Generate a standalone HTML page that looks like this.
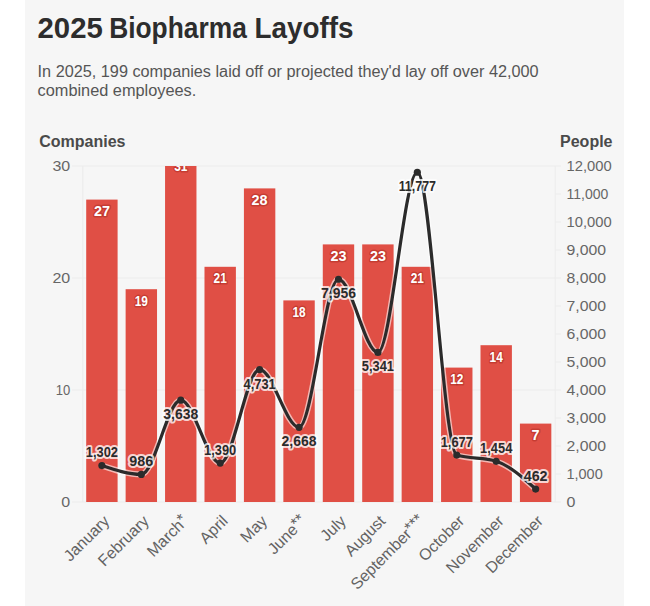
<!DOCTYPE html>
<html><head><meta charset="utf-8"><style>
html,body{margin:0;padding:0;background:#fff;}
body{width:650px;height:606px;position:relative;overflow:hidden;font-family:"Liberation Sans",Arial,sans-serif;}
#bg{position:absolute;left:25px;top:0;width:599px;height:606px;background:#f6f6f6;}
svg{position:absolute;left:0;top:0;font-family:"Liberation Sans",Arial,sans-serif;}
.ti{font-size:29px;font-weight:bold;fill:#2d2d2d;}
.su{font-size:16px;fill:#555;}
.hd{font-size:16px;font-weight:bold;fill:#4a4a4a;}
.g{stroke:#ececec;stroke-width:1;}
.ax{font-size:15.5px;fill:#666;}
.bl{font-size:14px;font-weight:bold;fill:#fff;stroke:rgba(150,25,15,0.35);stroke-width:3;paint-order:stroke;stroke-linejoin:round;}
.ln{fill:none;stroke:#2b2b2b;stroke-width:3.2;}
.lh{fill:none;stroke:#fff;stroke-opacity:0.6;stroke-width:6;}

.pl{font-size:14px;font-weight:bold;fill:#2b2b2b;stroke:rgba(255,255,255,0.75);stroke-width:4;paint-order:stroke;stroke-linejoin:round;}
.xl{font-size:16px;fill:#636363;}

</style></head><body>
<div id="bg"></div>
<svg width="650" height="606" viewBox="0 0 650 606">
<defs><clipPath id="pc"><rect x="0" y="166" width="650" height="400"/></clipPath></defs>
<text y="38.3" class="ti"><tspan x="37.5" textLength="65.3" lengthAdjust="spacingAndGlyphs">2025</tspan> <tspan x="109.2" textLength="137.6" lengthAdjust="spacingAndGlyphs">Biopharma</tspan> <tspan x="254.6" textLength="99" lengthAdjust="spacingAndGlyphs">Layoffs</tspan></text>
<text x="37.6" y="77" class="su" textLength="501" lengthAdjust="spacingAndGlyphs">In 2025, 199 companies laid off or projected they'd lay off over 42,000</text>
<text x="37.6" y="95.7" class="su" textLength="158.7" lengthAdjust="spacingAndGlyphs">combined employees.</text>
<text x="39.2" y="146.5" class="hd">Companies</text>
<text x="612.5" y="146.5" class="hd" text-anchor="end">People</text>
<line x1="72" x2="555" y1="502.0" y2="502.0" class="g"/>
<line x1="72" x2="555" y1="390.0" y2="390.0" class="g"/>
<line x1="72" x2="555" y1="278.0" y2="278.0" class="g"/>
<line x1="72" x2="555" y1="166.0" y2="166.0" class="g"/>
<line x1="555" x2="561" y1="502.0" y2="502.0" class="g"/>
<line x1="555" x2="561" y1="474.0" y2="474.0" class="g"/>
<line x1="555" x2="561" y1="446.0" y2="446.0" class="g"/>
<line x1="555" x2="561" y1="418.0" y2="418.0" class="g"/>
<line x1="555" x2="561" y1="390.0" y2="390.0" class="g"/>
<line x1="555" x2="561" y1="362.0" y2="362.0" class="g"/>
<line x1="555" x2="561" y1="334.0" y2="334.0" class="g"/>
<line x1="555" x2="561" y1="306.0" y2="306.0" class="g"/>
<line x1="555" x2="561" y1="278.0" y2="278.0" class="g"/>
<line x1="555" x2="561" y1="250.0" y2="250.0" class="g"/>
<line x1="555" x2="561" y1="222.0" y2="222.0" class="g"/>
<line x1="555" x2="561" y1="194.0" y2="194.0" class="g"/>
<line x1="555" x2="561" y1="166.0" y2="166.0" class="g"/>
<line x1="82.8" x2="82.8" y1="166" y2="502" class="g"/>
<line x1="555.2" x2="555.2" y1="166" y2="502" class="g"/>
<text x="70.2" y="507.4" class="ax" text-anchor="end" textLength="8.9" lengthAdjust="spacingAndGlyphs">0</text>
<text x="70.2" y="395.4" class="ax" text-anchor="end" textLength="14.5" lengthAdjust="spacingAndGlyphs">10</text>
<text x="70.2" y="283.4" class="ax" text-anchor="end" textLength="17.8" lengthAdjust="spacingAndGlyphs">20</text>
<text x="70.2" y="171.4" class="ax" text-anchor="end" textLength="17.8" lengthAdjust="spacingAndGlyphs">30</text>
<text x="566.5" y="507.4" class="ax" textLength="8.9" lengthAdjust="spacingAndGlyphs">0</text>
<text x="566.5" y="479.4" class="ax" textLength="36.2" lengthAdjust="spacingAndGlyphs">1,000</text>
<text x="566.5" y="451.4" class="ax" textLength="39.5" lengthAdjust="spacingAndGlyphs">2,000</text>
<text x="566.5" y="423.4" class="ax" textLength="39.5" lengthAdjust="spacingAndGlyphs">3,000</text>
<text x="566.5" y="395.4" class="ax" textLength="39.5" lengthAdjust="spacingAndGlyphs">4,000</text>
<text x="566.5" y="367.4" class="ax" textLength="39.5" lengthAdjust="spacingAndGlyphs">5,000</text>
<text x="566.5" y="339.4" class="ax" textLength="39.5" lengthAdjust="spacingAndGlyphs">6,000</text>
<text x="566.5" y="311.4" class="ax" textLength="39.5" lengthAdjust="spacingAndGlyphs">7,000</text>
<text x="566.5" y="283.4" class="ax" textLength="39.5" lengthAdjust="spacingAndGlyphs">8,000</text>
<text x="566.5" y="255.4" class="ax" textLength="39.5" lengthAdjust="spacingAndGlyphs">9,000</text>
<text x="566.5" y="227.4" class="ax" textLength="45.1" lengthAdjust="spacingAndGlyphs">10,000</text>
<text x="566.5" y="199.4" class="ax" textLength="41.8" lengthAdjust="spacingAndGlyphs">11,000</text>
<text x="566.5" y="171.4" class="ax" textLength="45.1" lengthAdjust="spacingAndGlyphs">12,000</text>
<g clip-path="url(#pc)">
<rect x="86.20" y="199.60" width="31.4" height="302.40" fill="#e04f45"/>
<rect x="125.63" y="289.20" width="31.4" height="212.80" fill="#e04f45"/>
<rect x="165.06" y="154.80" width="31.4" height="347.20" fill="#e04f45"/>
<rect x="204.49" y="266.80" width="31.4" height="235.20" fill="#e04f45"/>
<rect x="243.92" y="188.40" width="31.4" height="313.60" fill="#e04f45"/>
<rect x="283.35" y="300.40" width="31.4" height="201.60" fill="#e04f45"/>
<rect x="322.78" y="244.40" width="31.4" height="257.60" fill="#e04f45"/>
<rect x="362.21" y="244.40" width="31.4" height="257.60" fill="#e04f45"/>
<rect x="401.64" y="266.80" width="31.4" height="235.20" fill="#e04f45"/>
<rect x="441.07" y="367.60" width="31.4" height="134.40" fill="#e04f45"/>
<rect x="480.50" y="345.20" width="31.4" height="156.80" fill="#e04f45"/>
<rect x="519.93" y="423.60" width="31.4" height="78.40" fill="#e04f45"/>
<text x="101.90" y="216.10" class="bl" text-anchor="middle" textLength="16.0" lengthAdjust="spacingAndGlyphs">27</text>
<text x="141.33" y="305.70" class="bl" text-anchor="middle" textLength="13.2" lengthAdjust="spacingAndGlyphs">19</text>
<text x="180.76" y="171.30" class="bl" text-anchor="middle" textLength="13.2" lengthAdjust="spacingAndGlyphs">31</text>
<text x="220.19" y="283.30" class="bl" text-anchor="middle" textLength="13.2" lengthAdjust="spacingAndGlyphs">21</text>
<text x="259.62" y="204.90" class="bl" text-anchor="middle" textLength="16.0" lengthAdjust="spacingAndGlyphs">28</text>
<text x="299.05" y="316.90" class="bl" text-anchor="middle" textLength="13.2" lengthAdjust="spacingAndGlyphs">18</text>
<text x="338.48" y="260.90" class="bl" text-anchor="middle" textLength="16.0" lengthAdjust="spacingAndGlyphs">23</text>
<text x="377.91" y="260.90" class="bl" text-anchor="middle" textLength="16.0" lengthAdjust="spacingAndGlyphs">23</text>
<text x="417.34" y="283.30" class="bl" text-anchor="middle" textLength="13.2" lengthAdjust="spacingAndGlyphs">21</text>
<text x="456.77" y="384.10" class="bl" text-anchor="middle" textLength="13.2" lengthAdjust="spacingAndGlyphs">12</text>
<text x="496.20" y="361.70" class="bl" text-anchor="middle" textLength="13.2" lengthAdjust="spacingAndGlyphs">14</text>
<text x="535.63" y="440.10" class="bl" text-anchor="middle" textLength="8.0" lengthAdjust="spacingAndGlyphs">7</text>
</g>
<path d="M101.90,465.54C115.04,469.97,128.19,474.39,141.33,474.39C154.47,474.39,167.62,400.14,180.76,400.14C193.90,400.14,207.05,463.08,220.19,463.08C233.33,463.08,246.48,369.53,259.62,369.53C272.76,369.53,285.91,427.30,299.05,427.30C312.19,427.30,325.34,279.23,338.48,279.23C351.62,279.23,364.77,352.45,377.91,352.45C391.05,352.45,404.20,172.24,417.34,172.24C430.48,172.24,443.63,450.88,456.77,455.04C469.91,459.21,483.06,457.13,496.20,461.29C509.34,465.45,522.49,477.26,535.63,489.06" class="lh"/>
<path d="M101.90,465.54C115.04,469.97,128.19,474.39,141.33,474.39C154.47,474.39,167.62,400.14,180.76,400.14C193.90,400.14,207.05,463.08,220.19,463.08C233.33,463.08,246.48,369.53,259.62,369.53C272.76,369.53,285.91,427.30,299.05,427.30C312.19,427.30,325.34,279.23,338.48,279.23C351.62,279.23,364.77,352.45,377.91,352.45C391.05,352.45,404.20,172.24,417.34,172.24C430.48,172.24,443.63,450.88,456.77,455.04C469.91,459.21,483.06,457.13,496.20,461.29C509.34,465.45,522.49,477.26,535.63,489.06" class="ln"/>
<circle cx="101.90" cy="465.54" r="3.6" fill="#2b2b2b"/>
<circle cx="141.33" cy="474.39" r="3.6" fill="#2b2b2b"/>
<circle cx="180.76" cy="400.14" r="3.6" fill="#2b2b2b"/>
<circle cx="220.19" cy="463.08" r="3.6" fill="#2b2b2b"/>
<circle cx="259.62" cy="369.53" r="3.6" fill="#2b2b2b"/>
<circle cx="299.05" cy="427.30" r="3.6" fill="#2b2b2b"/>
<circle cx="338.48" cy="279.23" r="3.6" fill="#2b2b2b"/>
<circle cx="377.91" cy="352.45" r="3.6" fill="#2b2b2b"/>
<circle cx="417.34" cy="172.24" r="3.6" fill="#2b2b2b"/>
<circle cx="456.77" cy="455.04" r="3.6" fill="#2b2b2b"/>
<circle cx="496.20" cy="461.29" r="3.6" fill="#2b2b2b"/>
<circle cx="535.63" cy="489.06" r="3.6" fill="#2b2b2b"/>
<text x="101.90" y="457.04" class="pl" text-anchor="middle" textLength="32.2" lengthAdjust="spacingAndGlyphs">1,302</text>
<text x="141.33" y="465.89" class="pl" text-anchor="middle" textLength="23.9" lengthAdjust="spacingAndGlyphs">986</text>
<text x="180.76" y="419.14" class="pl" text-anchor="middle" textLength="35.0" lengthAdjust="spacingAndGlyphs">3,638</text>
<text x="220.19" y="454.58" class="pl" text-anchor="middle" textLength="32.2" lengthAdjust="spacingAndGlyphs">1,390</text>
<text x="259.62" y="388.53" class="pl" text-anchor="middle" textLength="32.2" lengthAdjust="spacingAndGlyphs">4,731</text>
<text x="299.05" y="446.30" class="pl" text-anchor="middle" textLength="35.0" lengthAdjust="spacingAndGlyphs">2,668</text>
<text x="338.48" y="298.23" class="pl" text-anchor="middle" textLength="35.0" lengthAdjust="spacingAndGlyphs">7,956</text>
<text x="377.91" y="371.45" class="pl" text-anchor="middle" textLength="32.2" lengthAdjust="spacingAndGlyphs">5,341</text>
<text x="417.34" y="191.24" class="pl" text-anchor="middle" textLength="37.4" lengthAdjust="spacingAndGlyphs">11,777</text>
<text x="456.77" y="446.54" class="pl" text-anchor="middle" textLength="32.2" lengthAdjust="spacingAndGlyphs">1,677</text>
<text x="496.20" y="452.79" class="pl" text-anchor="middle" textLength="32.2" lengthAdjust="spacingAndGlyphs">1,454</text>
<text x="535.63" y="480.56" class="pl" text-anchor="middle" textLength="23.9" lengthAdjust="spacingAndGlyphs">462</text>
<text transform="translate(110.40,522) rotate(-45)" class="xl" text-anchor="end">January</text>
<text transform="translate(149.83,522) rotate(-45)" class="xl" text-anchor="end">February</text>
<text transform="translate(189.26,522) rotate(-45)" class="xl" text-anchor="end">March<tspan dy="-2.5">*</tspan></text>
<text transform="translate(228.69,522) rotate(-45)" class="xl" text-anchor="end">April</text>
<text transform="translate(268.12,522) rotate(-45)" class="xl" text-anchor="end">May</text>
<text transform="translate(307.55,522) rotate(-45)" class="xl" text-anchor="end">June<tspan dy="-2.5">**</tspan></text>
<text transform="translate(346.98,522) rotate(-45)" class="xl" text-anchor="end">July</text>
<text transform="translate(386.41,522) rotate(-45)" class="xl" text-anchor="end">August</text>
<text transform="translate(425.84,522) rotate(-45)" class="xl" text-anchor="end">September<tspan dy="-2.5">***</tspan></text>
<text transform="translate(465.27,522) rotate(-45)" class="xl" text-anchor="end">October</text>
<text transform="translate(504.70,522) rotate(-45)" class="xl" text-anchor="end">November</text>
<text transform="translate(544.13,522) rotate(-45)" class="xl" text-anchor="end">December</text>
</svg>
</body></html>
